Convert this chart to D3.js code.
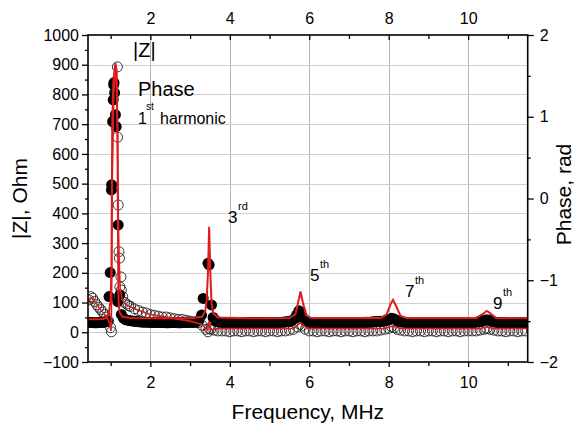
<!DOCTYPE html>
<html><head><meta charset="utf-8">
<script src="https://cdn.jsdelivr.net/npm/d3@7"></script>
<style>
html,body{margin:0;padding:0;background:#fff;}
svg{display:block;}
text{font-family:"Liberation Sans",Arial,sans-serif;fill:#000;}
</style></head>
<body>
<svg id="chart" width="581" height="423"></svg>
<script>
// ---------- data ----------
const xMajorTicks = [2, 4, 6, 8, 10];
const xMinorTicks = [1, 3, 5, 7, 9, 11];
const zTicks = [-100, 0, 100, 200, 300, 400, 500, 600, 700, 800, 900, 1000];
const zMinorTicks = [-50, 50, 150, 250, 350, 450, 550, 650, 750, 850, 950];
const phaseTicks = [-2, -1, 0, 1, 2];
const phaseMinorTicks = [-1.5, -0.5, 0.5, 1.5];

// measured |Z| (filled circles), [MHz, Ohm]
const zMeasured = [
  [0.45,34],[0.5,33],[0.55,33],[0.6,32],[0.65,32],[0.7,33],[0.75,33],[0.8,33],[0.85,34],
  [0.9,36],[0.92,38],[0.96,120],[0.99,201],
  [1.02,479],[1.025,496],[1.05,709],[1.065,782],[1.075,833],[1.085,840],[1.10,805],
  [1.12,732],[1.14,692],[1.18,103],[1.19,361],[1.23,125],[1.27,60],[1.32,48],[1.38,42],
  [1.45,40],[1.5,39],[1.55,38],[1.6,37],[1.65,36],[1.7,35],[1.75,35],[1.8,34],[1.85,34],
  [1.9,34],[1.95,34],[2.0,33],[2.05,33],[2.1,33],[2.15,33],[2.2,33],
  [2.25,33],[2.3,33],[2.35,33],[2.4,32],[2.45,32],[2.5,33],[2.55,33],[2.6,33],[2.65,33],
  [2.7,32],[2.75,32],[2.8,33],[2.85,33],[2.9,33],[2.95,33],
  [3.0,33],[3.05,33],[3.1,34],[3.15,34],[3.22,40],[3.29,58],[3.33,114],[3.45,232],[3.48,227],[3.54,92],
  [3.58,50],[3.65,38],[3.7,35],[3.75,34],[3.8,33],[3.85,33],[3.9,33],[3.95,33],[4.0,33],[4.05,32],[4.1,33],[4.15,33],
  [4.2,33],[4.25,33],[4.3,32],[4.35,32],[4.4,33],[4.45,33],[4.5,33],[4.55,33],[4.6,33],[4.65,32],[4.7,33],[4.75,33],
  [4.8,33],[4.85,33],[4.9,32],[4.95,32],[5.0,33],[5.05,33],
  [5.1,33],[5.15,33],[5.2,33],[5.25,33],[5.3,34],[5.35,34],[5.4,35],[5.45,35],[5.5,36],[5.55,38],[5.62,45],[5.68,58],[5.74,72],
  [5.79,68],[5.84,50],[5.9,38],[5.95,36],[5.98,35],[6.0,34],[6.05,33],[6.1,33],[6.15,33],[6.2,33],[6.25,32],[6.3,32],[6.35,33],
  [6.4,33],[6.45,33],[6.5,33],[6.55,32],[6.6,33],[6.65,33],[6.7,33],[6.75,33],[6.8,33],[6.85,33],[6.9,33],[6.95,32],[7.0,33],[7.05,33],[7.1,33],[7.15,33],
  [7.2,33],[7.25,33],[7.3,33],[7.35,33],[7.4,34],[7.45,34],[7.5,34],[7.55,34],[7.6,35],[7.65,35],[7.7,36],[7.75,36],[7.8,37],[7.85,37],[7.9,38],[7.95,40],
  [8.02,44],[8.08,47],[8.14,45],[8.2,40],[8.24,38],[8.28,36],[8.33,35],[8.38,34],[8.44,33],[8.5,33],[8.55,33],[8.6,33],[8.65,33],
  [8.7,33],[8.75,33],[8.8,32],[8.85,32],[8.9,33],[8.95,33],[9.0,33],[9.05,33],[9.1,33],[9.15,33],[9.2,32],[9.25,32],[9.3,33],[9.35,33],[9.4,33],[9.45,33],[9.5,33],
  [9.55,33],[9.6,33],[9.65,33],[9.7,32],[9.75,32],[9.8,33],[9.85,33],[9.9,33],[9.95,33],[10.0,33],[10.05,33],[10.1,33],[10.15,33],[10.2,34],[10.25,35],[10.3,36],
  [10.34,37],[10.38,39],[10.45,42],[10.52,41],[10.6,37],[10.65,35],[10.7,34],[10.75,33],[10.8,33],[10.85,33],[10.9,33],[10.95,32],[11.0,32],
  [11.05,33],[11.1,33],[11.15,33],[11.2,33],[11.25,33],[11.3,33],[11.35,33],[11.4,33],[11.45,33],[11.48,33]
];

// measured phase (open circles), [MHz, rad]
const phaseMeasured = [
  [0.45,-1.24],[0.5,-1.2],[0.55,-1.22],[0.6,-1.26],[0.65,-1.3],[0.7,-1.33],[0.75,-1.36],
  [0.8,-1.39],[0.85,-1.42],[0.9,-1.45],[0.95,-1.5],[1.0,-1.58],[1.02,-1.63],
  [1.17,1.61],[1.175,0.75],[1.19,-0.08],[1.21,-0.65],[1.22,-0.73],[1.23,-1.08],
  [1.26,-0.96],[1.27,-1.12],[1.3,-1.2],[1.35,-1.27],[1.4,-1.29],[1.45,-1.31],
  [1.5,-1.32],[1.6,-1.35],[1.7,-1.37],[1.8,-1.39],[1.9,-1.4],[2.0,-1.42],[2.1,-1.43],
  [2.2,-1.44],[2.3,-1.45],[2.4,-1.45],[2.5,-1.46],[2.6,-1.47],[2.7,-1.48],[2.8,-1.48],
  [2.9,-1.49],[3.0,-1.5],[3.1,-1.51],[3.2,-1.52],[3.3,-1.55],[3.4,-1.6],[3.45,-1.63],
  [3.48,-1.59],[3.52,-1.6],[3.6,-1.61],[3.7,-1.62],[3.8,-1.62],[3.9,-1.62],[4.0,-1.63],
  [4.1,-1.62],[4.2,-1.62],[4.3,-1.63],[4.4,-1.62],[4.5,-1.62],[4.6,-1.63],[4.7,-1.62],
  [4.8,-1.62],[4.9,-1.63],[5.0,-1.62],[5.1,-1.62],[5.2,-1.63],[5.3,-1.62],[5.4,-1.62],
  [5.5,-1.61],[5.6,-1.6],[5.7,-1.57],[5.76,-1.54],[5.82,-1.56],[5.9,-1.6],[6.0,-1.62],
  [6.1,-1.62],[6.2,-1.63],[6.3,-1.62],[6.4,-1.62],[6.5,-1.63],[6.6,-1.62],[6.7,-1.62],
  [6.8,-1.63],[6.9,-1.62],[7.0,-1.62],[7.1,-1.63],[7.2,-1.62],[7.3,-1.62],[7.4,-1.63],
  [7.5,-1.62],[7.6,-1.62],[7.7,-1.62],[7.8,-1.61],[7.9,-1.6],[8.0,-1.59],[8.07,-1.57],
  [8.14,-1.58],[8.22,-1.6],[8.3,-1.61],[8.4,-1.62],[8.5,-1.62],[8.6,-1.63],[8.7,-1.62],
  [8.8,-1.62],[8.9,-1.63],[9.0,-1.62],[9.1,-1.62],[9.2,-1.63],[9.3,-1.62],[9.4,-1.62],
  [9.5,-1.63],[9.6,-1.62],[9.7,-1.62],[9.8,-1.63],[9.9,-1.62],[10.0,-1.62],[10.1,-1.62],
  [10.2,-1.62],[10.3,-1.61],[10.4,-1.6],[10.47,-1.59],[10.55,-1.6],[10.65,-1.61],
  [10.75,-1.62],[10.85,-1.62],[10.95,-1.63],[11.05,-1.62],[11.15,-1.62],[11.25,-1.63],
  [11.35,-1.62],[11.45,-1.62]
];

// fitted |Z| (red), [MHz, Ohm]
const zFit = [
  [0.43,44],[0.6,44],[0.8,45],[0.9,49],[0.95,60],[1.0,110],[1.02,220],[1.03,450],
  [1.04,700],[1.07,850],[1.12,905],[1.15,880],[1.17,700],[1.18,480],[1.19,220],[1.2,100],
  [1.23,65],[1.3,52],[1.5,48],[2.0,47],[3.0,47],[3.3,52],[3.38,70],[3.42,110],[3.45,200],
  [3.48,355],[3.51,200],[3.54,100],[3.58,65],[3.7,50],[4.5,47],[5.5,48],[5.65,60],
  [5.72,100],[5.78,137],[5.84,100],[5.92,58],[6.05,48],[7.8,48],[7.95,60],[8.05,95],
  [8.11,109],[8.18,90],[8.3,55],[8.45,48],[10.2,48],[10.35,60],[10.47,72],[10.55,65],
  [10.7,48],[11.5,47]
];

// fitted phase (red), [MHz, rad]
const phaseFit = [
  [0.43,-1.27],[0.5,-1.21],[0.6,-1.26],[0.7,-1.33],[0.8,-1.39],[0.9,-1.45],[0.97,-1.52],
  [1.01,-1.62],[1.025,-1.2],[1.04,0.2],[1.08,1.3],[1.14,1.62],[1.17,0.9],[1.19,-0.1],
  [1.21,-0.7],[1.24,-1.1],[1.3,-1.25],[1.4,-1.3],[1.6,-1.35],[2.0,-1.42],[2.5,-1.46],
  [3.0,-1.5],[3.3,-1.54],[3.44,-1.61],[3.48,-1.5],[3.52,-1.61],[3.7,-1.59],[5.6,-1.59],
  [5.78,-1.52],[5.95,-1.59],[7.9,-1.59],[8.1,-1.56],[8.3,-1.59],[10.3,-1.59],
  [10.47,-1.57],[10.65,-1.59],[11.5,-1.59]
];

// ---------- layout ----------
const L = 88, R = 527.7, T = 35, B = 362;
const svg = d3.select("#chart");

const x = d3.scaleLinear().domain([0.43, 11.5]).range([L, R]);
const yZ = d3.scaleLinear().domain([-100, 1000]).range([B, T]);
const yP = d3.scaleLinear().domain([-2, 2]).range([B, T]);

// grid
const grid = svg.append("g").attr("stroke", "#b4b4b4").attr("stroke-width", 1);
grid.selectAll("line.v").data(xMajorTicks).join("line")
  .attr("x1", d => Math.round(x(d)) + 0.5).attr("x2", d => Math.round(x(d)) + 0.5)
  .attr("y1", T).attr("y2", B);
grid.selectAll("line.h").data(zTicks.filter(d => d >= 0 && d < 1000)).join("line")
  .attr("y1", d => Math.round(yZ(d)) + 0.5).attr("y2", d => Math.round(yZ(d)) + 0.5)
  .attr("x1", L).attr("x2", R).attr("stroke", "#cfcfcf");

// clip
svg.append("clipPath").attr("id", "clip").append("rect")
  .attr("x", L).attr("y", T).attr("width", R - L).attr("height", B - T);
const plot = svg.append("g").attr("clip-path", "url(#clip)");

// open circles (phase)
plot.append("g").selectAll("circle").data(phaseMeasured).join("circle")
  .attr("cx", d => x(d[0])).attr("cy", d => yP(d[1])).attr("r", 5)
  .attr("fill", "none").attr("stroke", "#222").attr("stroke-width", 0.9);

// filled circles (|Z|)
plot.append("g").selectAll("circle").data(zMeasured).join("circle")
  .attr("cx", d => x(d[0])).attr("cy", d => yZ(d[1])).attr("r", 5.5)
  .attr("fill", "#000");

// fits
plot.append("path").datum(phaseFit)
  .attr("d", d3.line().x(d => x(d[0])).y(d => yP(d[1])))
  .attr("fill", "none").attr("stroke", "#e01b1b").attr("stroke-width", 1.6);
plot.append("path").datum(zFit)
  .attr("d", d3.line().x(d => x(d[0])).y(d => yZ(d[1])))
  .attr("fill", "none").attr("stroke", "#e01b1b").attr("stroke-width", 2);

// axes
const fontTick = 16;
const fmt = d3.format("d");
function styleAxis(g) {
  g.select(".domain").remove();
  g.selectAll(".tick line").attr("stroke", "#000").attr("stroke-width", 1.3);
  g.selectAll("text").attr("font-size", fontTick).attr("font-family", '"Liberation Sans",Arial,sans-serif').attr("fill", "#000");
}
svg.append("g").attr("transform", `translate(${L},0)`)
  .call(d3.axisLeft(yZ).tickValues(zTicks).tickFormat(fmt).tickSize(6).tickPadding(3)).call(styleAxis);
svg.append("g").attr("transform", `translate(${L},0)`)
  .call(d3.axisLeft(yZ).tickValues(zMinorTicks).tickSize(3).tickFormat("")).call(styleAxis);
svg.append("g").attr("transform", `translate(${R},0)`)
  .call(d3.axisRight(yP).tickValues(phaseTicks).tickFormat(fmt).tickSize(6).tickPadding(6)).call(styleAxis);
svg.append("g").attr("transform", `translate(${R},0)`)
  .call(d3.axisRight(yP).tickValues(phaseMinorTicks).tickSize(3).tickFormat("")).call(styleAxis);
svg.append("g").attr("transform", `translate(0,${B})`)
  .call(d3.axisBottom(x).tickValues(xMajorTicks).tickFormat(fmt).tickSize(5).tickPadding(10)).call(styleAxis);
svg.append("g").attr("transform", `translate(0,${B})`)
  .call(d3.axisBottom(x).tickValues(xMinorTicks).tickSize(4).tickFormat("")).call(styleAxis);
svg.append("g").attr("transform", `translate(0,${T})`)
  .call(d3.axisTop(x).tickValues(xMajorTicks).tickFormat(fmt).tickSizeInner(-5).tickSizeOuter(0).tickPadding(11)).call(styleAxis);
svg.append("g").attr("transform", `translate(0,${T})`)
  .call(d3.axisTop(x).tickValues(xMinorTicks).tickSizeInner(-4).tickSizeOuter(0).tickFormat("")).call(styleAxis);

// frame
svg.append("rect").attr("x", L).attr("y", T).attr("width", R - L).attr("height", B - T)
  .attr("fill", "none").attr("stroke", "#000").attr("stroke-width", 1.6);

// axis titles
svg.append("text").attr("x", (L + R) / 2).attr("y", 419).attr("text-anchor", "middle")
  .attr("font-size", 21).text("Frequency, MHz");
svg.append("text").attr("transform", `translate(27,${(T + B) / 2}) rotate(-90)`)
  .attr("text-anchor", "middle").attr("font-size", 21).text("|Z|, Ohm");
svg.append("text").attr("transform", `translate(571,${(T + B) / 2 - 4}) rotate(-90)`)
  .attr("text-anchor", "middle").attr("font-size", 21).text("Phase, rad");

// annotations
const ann = svg.append("g");
ann.append("text").attr("x", 133).attr("y", 57).attr("font-size", 20).text("|Z|");
ann.append("text").attr("x", 138).attr("y", 96).attr("font-size", 20).text("Phase");
ann.append("text").attr("x", 138).attr("y", 124).attr("font-size", 16).text("1");
ann.append("text").attr("x", 146).attr("y", 110).attr("font-size", 10).text("st");
ann.append("text").attr("x", 160).attr("y", 124).attr("font-size", 16).text("harmonic");
const harm = [
  {n:"3", s:"rd", x:228, y:223},
  {n:"5", s:"th", x:310, y:281},
  {n:"7", s:"th", x:405, y:297},
  {n:"9", s:"th", x:493, y:309}
];
harm.forEach(h => {
  ann.append("text").attr("x", h.x).attr("y", h.y).attr("font-size", 17).text(h.n);
  ann.append("text").attr("x", h.x + 10).attr("y", h.y - 13).attr("font-size", 11).text(h.s);
});
</script>
</body></html>
